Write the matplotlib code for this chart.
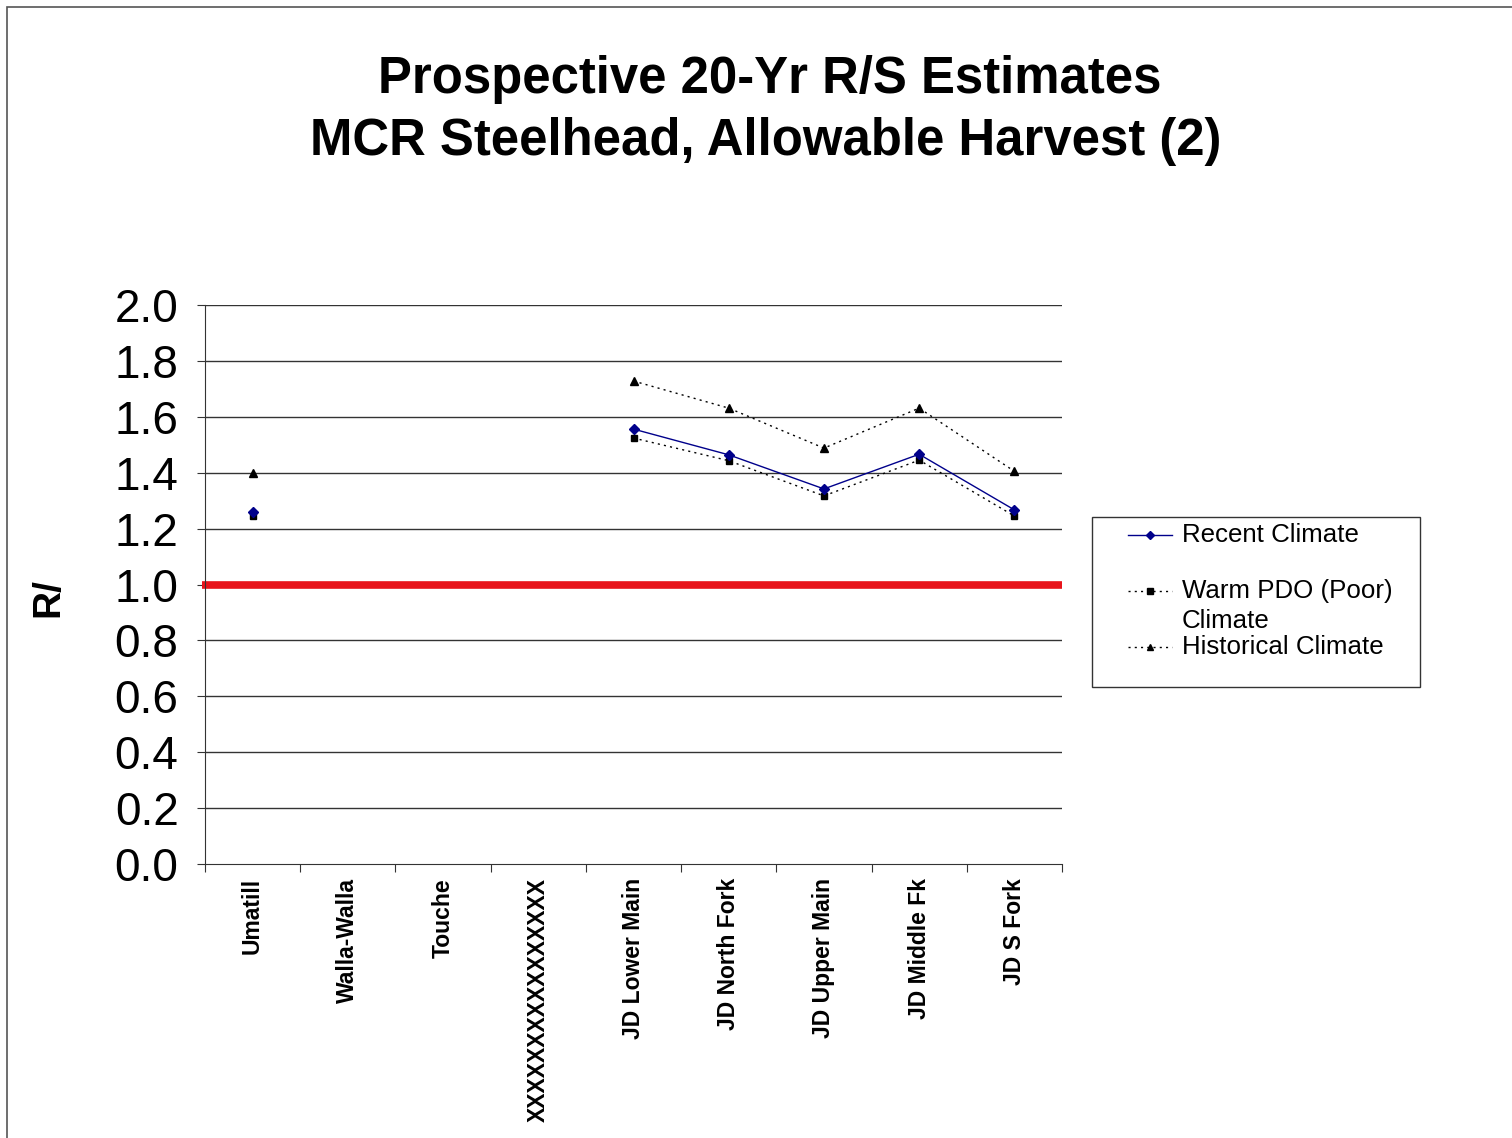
import numpy as np
import matplotlib
matplotlib.use("Agg")
import matplotlib.pyplot as plt
from matplotlib.patches import Rectangle
from matplotlib.lines import Line2D

categories = ["Umatill", "Walla-Walla", "Touche", "XXXXXXXXXXXXXXXX",
              "JD Lower Main", "JD North Fork", "JD Upper Main", "JD Middle Fk", "JD S Fork"]
recent = [1.26, np.nan, np.nan, np.nan, 1.556, 1.464, 1.342, 1.466, 1.267]
warm_pdo = [1.245, np.nan, np.nan, np.nan, 1.524, 1.443, 1.317, 1.445, 1.245]
historical = [1.40, np.nan, np.nan, np.nan, 1.728, 1.631, 1.488, 1.631, 1.405]
yticks = [0.0, 0.2, 0.4, 0.6, 0.8, 1.0, 1.2, 1.4, 1.6, 1.8, 2.0]
threshold = 1.0
series_labels = ["Recent Climate", "Warm PDO (Poor)\nClimate", "Historical Climate"]

W, H = 1512, 1138
fig = plt.figure(figsize=(W / 100, H / 100), dpi=100)
plt.rcParams['font.family'] = ['Liberation Sans', 'DejaVu Sans']

# outer frame
fig.patches.append(Rectangle((7 / W, -0.1), 2, (1138 - 7) / H + 0.1, transform=fig.transFigure,
                             fill=False, edgecolor='#555555', linewidth=1.2))

ax = fig.add_axes([205 / W, 1 - 864 / H, (1062 - 205) / W, (864 - 305) / H])
x = np.arange(len(categories))

for yv in yticks[1:]:
    ax.axhline(yv, color='#333333', linewidth=1.0, zorder=1)
ax.axhline(threshold, xmin=-0.004, xmax=1.0, color='#e8141b', linewidth=5.5, zorder=2,
           clip_on=False, solid_capstyle='butt')

dot = (0, (1.5, 3))
ax.plot(x, warm_pdo, linestyle=dot, color='black', linewidth=1.0,
        marker='s', markersize=5, zorder=3)
ax.plot(x, historical, linestyle=dot, color='black', linewidth=1.0,
        marker='^', markersize=6, zorder=3)
ax.plot(x, recent, linestyle='-', color='#00008b', linewidth=1.0,
        marker='D', markersize=5, zorder=4)

ax.set_xlim(-0.5, len(categories) - 0.5)
ax.set_ylim(0, 2.0)
ax.set_yticks(yticks)
ax.set_yticklabels([f"{v:.1f}" for v in yticks], fontsize=33)
ax.set_xticks(np.arange(-0.5, len(categories), 1.0))
ax.set_xticklabels([])
ax.set_xticks(x, minor=True)
ax.set_xticklabels(categories, minor=True, rotation=90, fontsize=16.5, fontweight='bold', va='top')
ax.tick_params(axis='x', which='minor', length=0, pad=10)
ax.tick_params(axis='x', which='major', length=6, direction='out', color='#333333')
ax.tick_params(axis='y', length=6, direction='out', color='#333333', pad=13)
for s in ['top', 'right']:
    ax.spines[s].set_visible(False)
ax.spines['left'].set_color('#333333')
ax.spines['bottom'].set_color('#333333')

fig.text(30 / W, 1 - 598 / H, "R/", rotation=90, fontsize=28, fontweight='bold',
         ha='left', va='center')

fig.text(770 / W, 1 - 79 / H, "Prospective 20-Yr R/S Estimates", fontsize=36.6,
         fontweight='bold', ha='center', va='center')
fig.text(766 / W, 1 - 142 / H, "MCR Steelhead, Allowable Harvest (2)", fontsize=36.6,
         fontweight='bold', ha='center', va='center')

# legend (manual, to match the original spacing)
fig.patches.append(Rectangle((1092 / W, 1 - 687 / H), (1420 - 1092) / W, (687 - 517) / H,
                             transform=fig.transFigure, fill=False,
                             edgecolor='#333333', linewidth=1.0))
leg_styles = [dict(linestyle='-', color='#00008b', marker='D', markersize=4),
              dict(linestyle=dot, color='black', marker='s', markersize=4),
              dict(linestyle=dot, color='black', marker='^', markersize=5)]
leg_y = [535, 591, 647]
line_gap = 30
for lab, st, yy in zip(series_labels, leg_styles, leg_y):
    fy = 1 - yy / H
    fig.lines.append(Line2D([1128 / W, 1172 / W], [fy, fy], transform=fig.transFigure,
                            linewidth=1.0, linestyle=st['linestyle'], color=st['color']))
    fig.lines.append(Line2D([1150 / W], [fy], transform=fig.transFigure, linestyle='none',
                            marker=st['marker'], markersize=st['markersize'], color=st['color']))
    for k, part in enumerate(lab.split("\n")):
        fig.text(1182 / W, 1 - (yy + k * line_gap) / H, part, fontsize=18.6,
                 ha='left', va='center')

fig.savefig("out.png", dpi=100, facecolor='white')
